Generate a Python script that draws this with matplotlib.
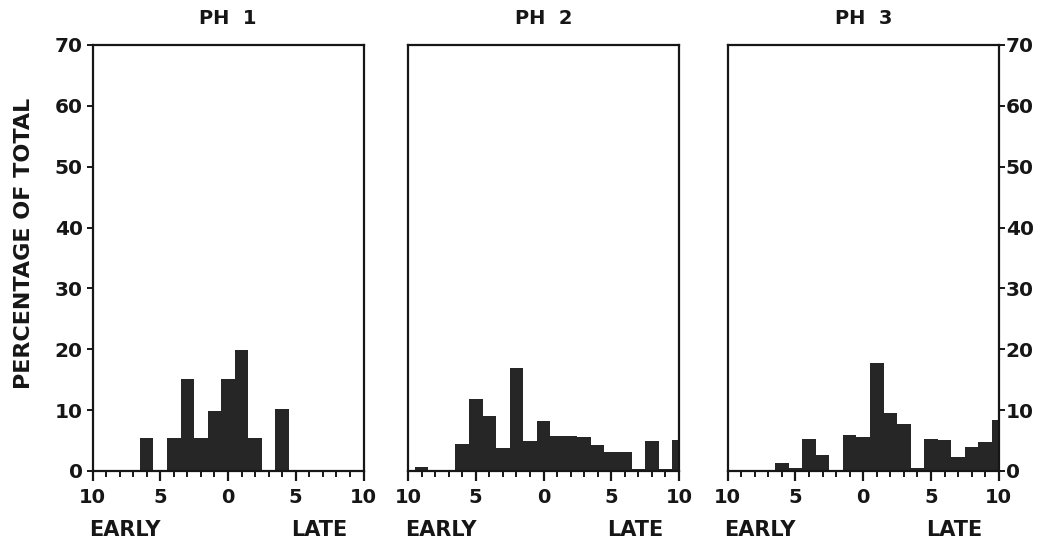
import matplotlib
matplotlib.use("Agg")
import matplotlib.pyplot as plt
import numpy as np

# ---- data ----
bins = list(range(-10, 11))  # time offset, centre of each 1-unit bin
ph1 = [0, 0, 0, 0, 5.4, 0, 5.4, 15.1, 5.4, 9.9, 15.1, 19.9, 5.4, 0, 10.2, 0, 0, 0, 0, 0, 0]
ph2 = [0, 0.7, 0, 0, 4.5, 11.8, 9.1, 3.7, 17.0, 4.9, 8.2, 5.75, 5.75, 5.6, 4.2, 3.2, 3.2, 0.4, 5.0, 0.3, 5.1]
ph3 = [0, 0, 0, 0, 1.26, 0.55, 5.2, 2.6, 0, 5.9, 5.6, 17.8, 9.6, 7.8, 0.55, 5.3, 5.1, 2.35, 4.0, 4.8, 8.3]
titles = ["PH  1", "PH  2", "PH  3"]
xtick_pos = [-10, -5, 0, 5, 10]
xtick_labels = ["10", "5", "0", "5", "10"]
ytick_pos = [0, 10, 20, 30, 40, 50, 60, 70]
ylabel = "PERCENTAGE OF TOTAL"
early_label, late_label = "EARLY", "LATE"

plt.rcParams['font.family'] = ['DejaVu Sans']
plt.rcParams['font.weight'] = 'bold'

W, H = 1058, 550
fig = plt.figure(figsize=(W / 100, H / 100), dpi=100)

lefts = [92.5, 408, 727.7]
ax_w = 271
ax_top, ax_bot = 45, 471
ink = '#161616'
barc = '#262626'

series = [ph1, ph2, ph3]
for i, (lx, data, title) in enumerate(zip(lefts, series, titles)):
    ax = fig.add_axes([lx / W, (H - ax_bot) / H, ax_w / W, (ax_bot - ax_top) / H])
    ax.bar(bins, data, width=1.0, align='center', color=barc, edgecolor='none')
    ax.set_xlim(-10, 10)
    ax.set_ylim(0, 70)
    for s in ax.spines.values():
        s.set_linewidth(1.6)
        s.set_color(ink)
    ax.set_xticks(xtick_pos)
    ax.set_xticklabels(xtick_labels)
    ax.set_xticks(bins, minor=True)
    ax.tick_params(axis='x', which='major', direction='out', length=7.5, width=1.6,
                   color=ink, labelsize=14, pad=5, labelcolor=ink)
    ax.tick_params(axis='x', which='minor', direction='out', length=4.5, width=1.4, color=ink)
    ax.set_yticks(ytick_pos)
    if i == 0:
        ax.tick_params(axis='y', direction='out', length=4, width=1.4, color=ink,
                       labelsize=14.5, pad=3, labelcolor=ink, left=True, right=False)
        ax.set_ylabel(ylabel, fontsize=16, fontweight='bold', color=ink)
        ax.yaxis.set_label_coords(-0.215, 0.535)
    elif i == 2:
        ax.yaxis.tick_right()
        ax.tick_params(axis='y', direction='out', length=4, width=1.4, color=ink,
                       labelsize=14.5, pad=1, labelcolor=ink, left=False, right=True)
    else:
        ax.tick_params(axis='y', left=False, right=False, labelleft=False)
    for lab in ax.get_xticklabels() + ax.get_yticklabels():
        lab.set_fontweight('bold')
    ax.set_title(title, fontsize=14, fontweight='bold', color=ink, pad=15)
    ax.text(-0.012, -0.1385, early_label, transform=ax.transAxes, ha='left', va='center',
            fontsize=15, fontweight='bold', color=ink)
    ax.text(1 - 0.059, -0.1385, late_label, transform=ax.transAxes, ha='right', va='center',
            fontsize=15, fontweight='bold', color=ink)

fig.savefig("out.png", dpi=100, facecolor='white')
